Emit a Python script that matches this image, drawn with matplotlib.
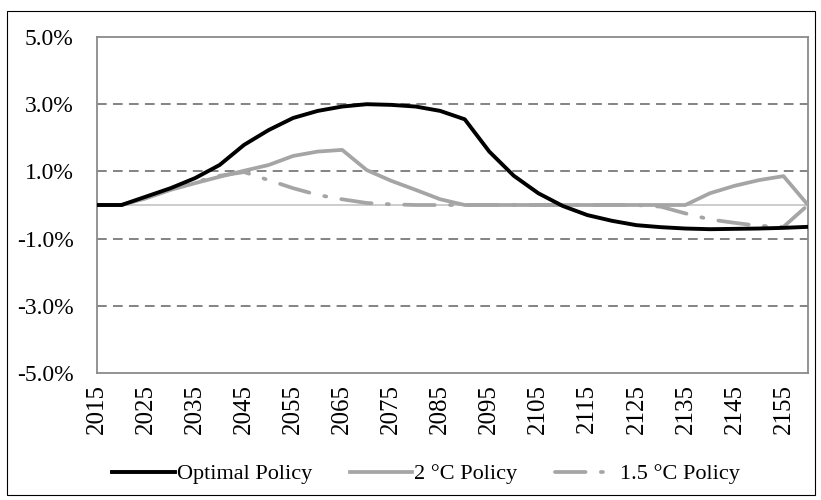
import matplotlib
matplotlib.use("Agg")
import matplotlib.pyplot as plt
from matplotlib.patches import Rectangle

years = list(range(2015, 2161, 5))
optimal = [0.0, 0.0, 0.25, 0.5, 0.8, 1.19, 1.79, 2.23, 2.59, 2.8, 2.93, 3.0, 2.98, 2.93, 2.8,
           2.55, 1.59, 0.87, 0.35, -0.03, -0.3, -0.47, -0.6, -0.66, -0.7, -0.72, -0.71, -0.7,
           -0.68, -0.65]
two_deg = [0.0, 0.0, 0.2, 0.45, 0.65, 0.84, 1.02, 1.19, 1.46, 1.59, 1.64, 1.04, 0.72, 0.45,
           0.17, 0.0, 0.0, 0.0, 0.0, 0.0, 0.0, 0.0, 0.0, 0.0, 0.0, 0.35, 0.57, 0.74, 0.86, 0.0]
one5_deg = [0.0, 0.0, 0.2, 0.47, 0.68, 0.87, 0.98, 0.74, 0.5, 0.3, 0.17, 0.06, 0.02, 0.0,
            0.0, 0.0, 0.0, 0.0, 0.0, 0.0, 0.0, 0.0, 0.0, -0.05, -0.25, -0.43, -0.53, -0.62,
            -0.65, 0.0]
yticks = [-5, -3, -1, 1, 3, 5]
xticks = list(range(2015, 2156, 10))
labels = ["Optimal Policy", "2 \u00b0C Policy", "1.5 \u00b0C Policy"]

plt.rcParams['font.family'] = ['Liberation Serif', 'DejaVu Serif']
plt.rcParams['lines.scale_dashes'] = False

fig = plt.figure(figsize=(8.21, 5.0), dpi=100)
ax = fig.add_axes([97/821, 1-373/500, 711/821, 336/500])

gray = '#a5a5a5'
ax.axhline(0, color='#c8c8c8', lw=1.3, zorder=1)
for yv in [-3, -1, 1, 3]:
    ax.axhline(yv, color='#7a7a7a', lw=1.3, dashes=(7, 4.5), zorder=1)

ax.plot(years, optimal, color='black', lw=2.8, label=labels[0], zorder=4,
        solid_joinstyle='round')
ax.plot(years, two_deg, color=gray, lw=2.7, label=labels[1], zorder=3)
ax.plot(years, one5_deg, color=gray, lw=2.7, label=labels[2], zorder=3,
        dashes=(22, 11, 1.5, 11), dash_capstyle='round')

ax.set_xlim(2015, 2160)
ax.set_ylim(-5, 5)
ax.set_yticks(yticks)
ax.set_yticklabels([f"{v:.1f}%" for v in yticks])
ax.set_xticks(xticks)
ax.set_xticklabels([str(x) for x in xticks], rotation=90)
ax.tick_params(axis='both', length=0)
ax.tick_params(axis='y', pad=17, labelsize=17)
ax.tick_params(axis='x', pad=8, labelsize=18)
for s in ax.spines.values():
    s.set_color('#8a8a8a')
    s.set_linewidth(1.3)

leg = fig.legend(loc='center', bbox_to_anchor=(426/821, 1-474/500), ncol=3,
                 frameon=False, fontsize=16, handlelength=2.8, handletextpad=0.1,
                 columnspacing=1.7)

fig.add_artist(Rectangle((7/821, 5/500), 808/821, 484/500, transform=fig.transFigure,
                         fill=False, edgecolor='black', lw=0.8))

fig.savefig("out.png", dpi=100)
